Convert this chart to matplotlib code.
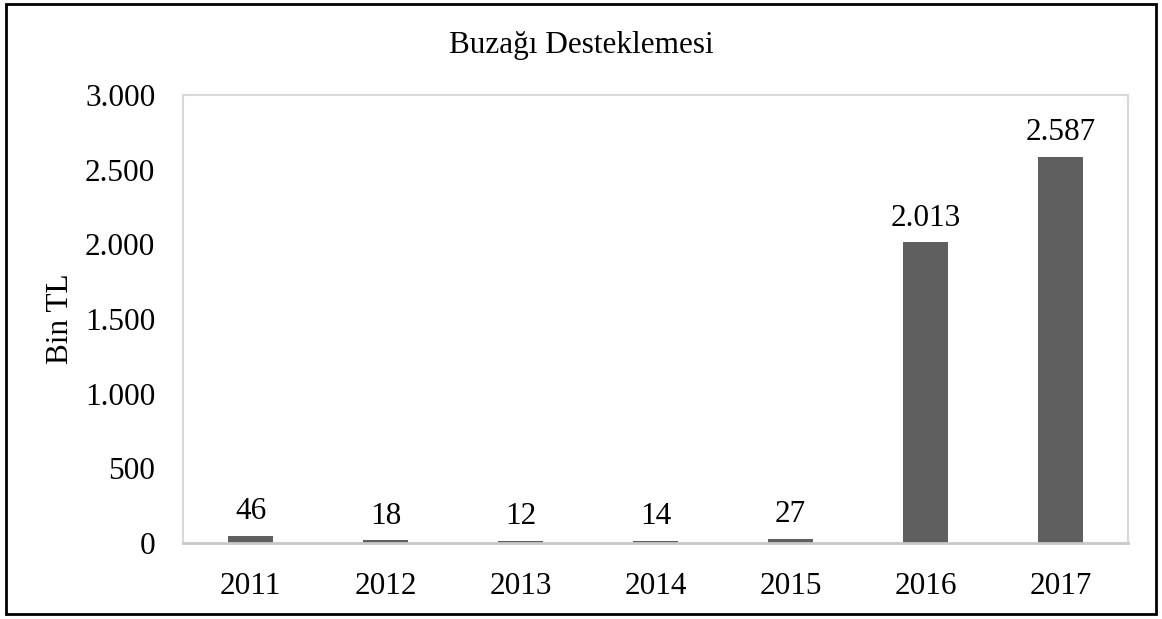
import matplotlib.pyplot as plt
from matplotlib.patches import Rectangle

years = ['2011', '2012', '2013', '2014', '2015', '2016', '2017']
values = [46, 18, 12, 14, 27, 2013, 2587]
value_labels = ['46', '18', '12', '14', '27', '2.013', '2.587']
yticks = [0, 500, 1000, 1500, 2000, 2500, 3000]
ytick_labels = ['0', '500', '1.000', '1.500', '2.000', '2.500', '3.000']

plt.rcParams['font.family'] = ['Liberation Serif', 'DejaVu Serif']

fig = plt.figure(figsize=(11.62, 6.19), dpi=100)
ax = fig.add_axes([0.1575, 0.1228, 0.8132, 0.7237])

x = range(len(years))
bars = ax.bar(x, values, width=0.333, color='#5f5f5f', zorder=2)
for i, b in enumerate(bars):
    ax.annotate(value_labels[i], (b.get_x() + b.get_width() / 2, values[i]),
                xytext=(0, 7), textcoords='offset points',
                ha='center', va='bottom', fontsize=22.5)

ax.set_xlim(-0.5, 6.5)
ax.set_ylim(0, 3000)
ax.set_xticks(list(x))
ax.set_xticklabels(years, fontsize=22.5)
ax.set_yticks(yticks)
ax.set_yticklabels(ytick_labels, fontsize=22.5)
ax.tick_params(axis='x', length=0, pad=21)
ax.tick_params(axis='y', length=0, pad=20)
for s in ax.spines.values():
    s.set_color('#d9d9d9')
    s.set_linewidth(1.5)
ax.spines['bottom'].set_color('#c8c8c8')
ax.spines['bottom'].set_linewidth(2)
ax.set_ylabel('Bin TL', fontsize=22.5, labelpad=7)

fig.text(0.5, 0.927, 'Buzağı Desteklemesi', ha='center', va='center', fontsize=22.5)

fig.patches.append(Rectangle((0.005, 0.008), 0.99, 0.985, transform=fig.transFigure,
                             fill=False, edgecolor='black', linewidth=2))

plt.savefig('out.png', dpi=100)
